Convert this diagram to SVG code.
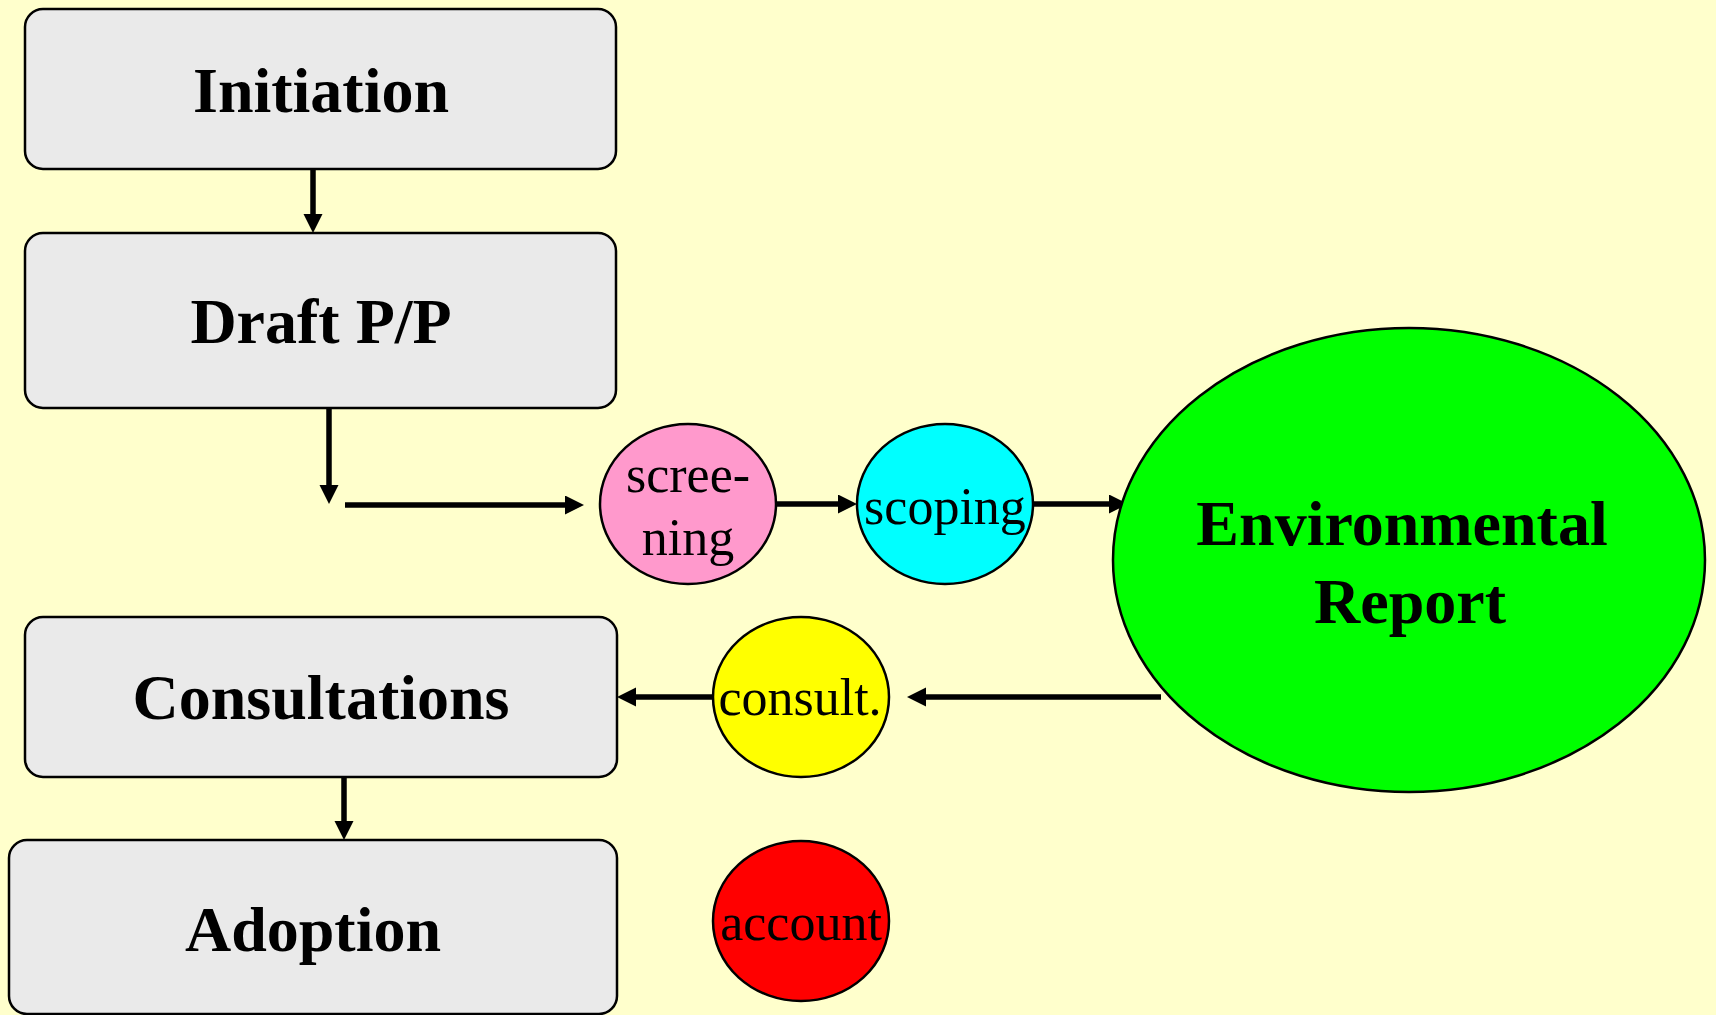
<svg xmlns="http://www.w3.org/2000/svg" width="1716" height="1015" viewBox="0 0 1716 1015">
<style>
.bg{fill:#FFFFCC}
.box{fill:#EAEAEA;stroke:#000;stroke-width:2.5}
.ell{stroke:#000;stroke-width:2.5}
.bt{font-family:"Liberation Serif","Times New Roman",serif;font-weight:bold;font-size:64px;text-anchor:middle;fill:#000}
.ct{font-family:"Liberation Serif","Times New Roman",serif;font-size:52px;text-anchor:middle;fill:#000}
.et{font-family:"Liberation Serif","Times New Roman",serif;font-weight:bold;font-size:64px;text-anchor:middle;fill:#000}
.con{stroke:#000;stroke-width:5.5;fill:none;marker-end:url(#ah)}
</style>
<defs>
<marker id="ah" markerUnits="userSpaceOnUse" markerWidth="20" markerHeight="20" refX="0" refY="9.5" orient="auto">
<path d="M0,0 L19,9.5 L0,19 z" fill="#000"/>
</marker>
</defs>
<rect class="bg" x="0" y="0" width="1716" height="1015"/>
<g id="connectors">
<line class="con" x1="313" y1="169" x2="313" y2="214"/>
<line class="con" x1="329" y1="408" x2="329" y2="485"/>
<line class="con" x1="345" y1="505" x2="565" y2="505"/>
<line class="con" x1="776" y1="504" x2="838" y2="504"/>
<line class="con" x1="1033" y1="504" x2="1109" y2="504"/>
<line class="con" x1="1161" y1="697" x2="926" y2="697"/>
<line class="con" x1="713" y1="697" x2="636" y2="697"/>
<line class="con" x1="344" y1="777" x2="344" y2="821"/>
</g>
<g id="initiation">
<rect class="box" x="25" y="9" width="591" height="160" rx="18"/>
<text class="bt" x="321" y="112">Initiation</text>
</g>
<g id="draft">
<rect class="box" x="25" y="233" width="591" height="175" rx="18"/>
<text class="bt" x="321" y="343">Draft P/P</text>
</g>
<g id="consultations">
<rect class="box" x="25" y="617" width="592" height="160" rx="18"/>
<text class="bt" x="321" y="719">Consultations</text>
</g>
<g id="adoption">
<rect class="box" x="9" y="840" width="608" height="174" rx="18"/>
<text class="bt" x="313" y="951">Adoption</text>
</g>
<g id="screening">
<ellipse class="ell" cx="688" cy="504" rx="88" ry="80" fill="#FF99CC"/>
<text class="ct" x="688" y="492">scree-</text>
<text class="ct" x="688" y="555">ning</text>
</g>
<g id="scoping">
<ellipse class="ell" cx="945" cy="504" rx="88" ry="80" fill="#00FFFF"/>
<text class="ct" x="945" y="524">scoping</text>
</g>
<g id="environmental-report">
<ellipse class="ell" cx="1409" cy="560" rx="296" ry="232" fill="#00FF00"/>
<text class="et" x="1402" y="545">Environmental</text>
<text class="et" x="1410" y="623">Report</text>
</g>
<g id="consult">
<ellipse class="ell" cx="801" cy="697" rx="88" ry="80" fill="#FFFF00"/>
<text class="ct" x="800" y="715">consult.</text>
</g>
<g id="account">
<ellipse class="ell" cx="801" cy="921" rx="88" ry="80" fill="#FF0000"/>
<text class="ct" x="801" y="940">account</text>
</g>
</svg>
